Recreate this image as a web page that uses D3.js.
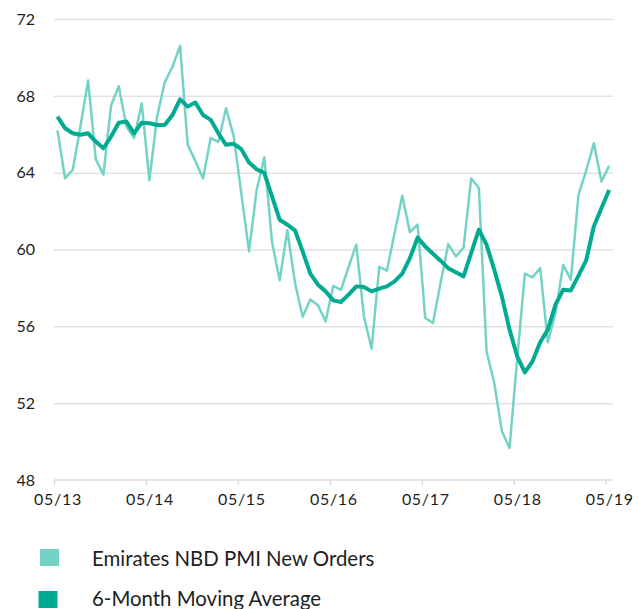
<!DOCTYPE html>
<html lang="en">

<head>
    <meta charset="UTF-8">
    <title>PMI New Orders</title>
    <style>
        body {
            margin: 0;
            padding: 0;
            background-color: white;
        }

        svg text {
            font-family: Lato, "Open Sans", sans-serif;
            fill: #1e1e1e;
        }

        .grid line {
            stroke: #e2e2e2;
            stroke-width: 1.5;
        }
    </style>
</head>

<body>
    <div id="chart"></div>

    <script src="https://cdn.jsdelivr.net/npm/d3@7"></script>
    <script>

        // data: monthly readings, 05/2013 .. 05/2019
        const xTickLabels = ["05/13", "05/14", "05/15", "05/16", "05/17", "05/18", "05/19"];
        const yTicks = [48, 52, 56, 60, 64, 68, 72];

        const pmiNewOrders = [66.2, 63.7, 64.15, 66.4, 68.8, 64.7, 63.9, 67.5, 68.5, 66.4,
            65.8, 67.6, 63.6, 66.9, 68.7, 69.5, 70.6, 65.45, 64.6, 63.7,
            65.8, 65.6, 67.35, 65.9, 62.9, 59.9, 63.1, 64.8, 60.4, 58.4,
            61.0, 58.26, 56.5, 57.4, 57.1, 56.26, 58.1, 57.9, 59.1, 60.25,
            56.5, 54.84, 59.1, 58.9, 60.86, 62.8, 60.9, 61.3, 56.43, 56.17,
            58.26, 60.28, 59.64, 60.1, 63.7, 63.2, 54.7, 53.06, 50.54, 49.67,
            54.3, 58.74, 58.55, 59.03, 55.17, 56.7, 59.2, 58.43, 62.85, 64.1,
            65.53, 63.54, 64.36];

        const movingAvg = [66.92, 66.31, 66.05, 65.97, 66.05, 65.62, 65.27, 65.88, 66.6, 66.66,
            66.05, 66.6, 66.57, 66.48, 66.48, 67.0, 67.82, 67.44, 67.65, 67.0,
            66.75, 66.05, 65.45, 65.5, 65.22, 64.53, 64.18, 63.98, 62.76, 61.55,
            61.29, 61.0, 59.9, 58.74, 58.17, 57.82, 57.35, 57.27, 57.65, 58.08,
            58.05, 57.82, 57.96, 58.08, 58.34, 58.74, 59.55, 60.62, 60.16, 59.78,
            59.42, 59.03, 58.81, 58.6, 59.82, 61.03, 60.25, 58.95, 57.56, 55.83,
            54.44, 53.6, 54.18, 55.17, 55.83, 57.13, 57.9, 57.87, 58.64, 59.43,
            61.2, 62.16, 63.1];

        const legendLabels = ["Emirates NBD PMI New Orders", "6-Month Moving Average"];
        const colors = ["#74d3c5", "#00ab91"];

        const w = 638;
        const h = 609;

        const svg = d3.select("#chart")
            .append("svg")
            .attr("width", w)
            .attr("height", h);

        // months since 05/13 -> px; readings sit mid-month
        const x = d3.scaleLinear().domain([0, 72]).range([54, 605.7]);
        const y = d3.scaleLinear().domain([48, 72]).range([480, 19]);

        // gridlines
        const grid = svg.append("g")
            .attr("class", "grid")
            .attr("transform", "translate(54,0)")
            .call(d3.axisLeft(y).tickValues(yTicks.slice(1)).tickSize(-559).tickFormat(""));
        grid.select(".domain").remove();

        // y labels
        svg.append("g")
            .selectAll("text")
            .data(yTicks)
            .enter()
            .append("text")
            .attr("x", 35)
            .attr("y", d => y(d))
            .attr("dy", "0.36em")
            .attr("text-anchor", "end")
            .attr("font-size", 16)
            .text(d => d);

        // x axis
        const xAxis = svg.append("g")
            .attr("transform", "translate(0,480)")
            .call(d3.axisBottom(x)
                .tickValues(d3.range(0, 73, 12))
                .tickSize(5)
                .tickFormat((d, i) => xTickLabels[i]));
        xAxis.select(".domain")
            .attr("d", "M54,0H613")
            .attr("stroke", "#dcdcdc")
            .attr("stroke-width", 1.5);
        xAxis.selectAll(".tick line")
            .attr("stroke", "#dcdcdc")
            .attr("stroke-width", 1.5);
        xAxis.selectAll(".tick text")
            .attr("y", 14)
            .attr("dx", 3.5)
            .attr("font-size", 16)
            .attr("letter-spacing", 0.7)
            .attr("font-family", "Lato, sans-serif")
            .attr("fill", "#1e1e1e");

        const line = d3.line()
            .x((d, i) => x(i + 0.45))
            .y(d => y(d));

        svg.append("path")
            .datum(pmiNewOrders)
            .attr("d", line)
            .attr("fill", "none")
            .attr("stroke", colors[0])
            .attr("stroke-width", 2.5)
            .attr("stroke-linejoin", "round");

        svg.append("path")
            .datum(movingAvg)
            .attr("d", line)
            .attr("fill", "none")
            .attr("stroke", colors[1])
            .attr("stroke-width", 4)
            .attr("stroke-linejoin", "round");

        // legend
        const legend = svg.append("g");
        const legendY = [557.5, 599.5];
        const legendX = [40, 38.5];

        legend.selectAll("rect")
            .data(legendLabels)
            .enter()
            .append("rect")
            .attr("x", (d, i) => legendX[i])
            .attr("y", (d, i) => legendY[i] - 8.5)
            .attr("width", 19)
            .attr("height", 17)
            .attr("fill", (d, i) => colors[i]);

        legend.selectAll("text")
            .data(legendLabels)
            .enter()
            .append("text")
            .attr("x", 92)
            .attr("y", (d, i) => legendY[i] + (i === 0 ? 8.5 : 6.5))
            .attr("font-size", 20.4)
            .text(d => d);

    </script>
</body>

</html>
